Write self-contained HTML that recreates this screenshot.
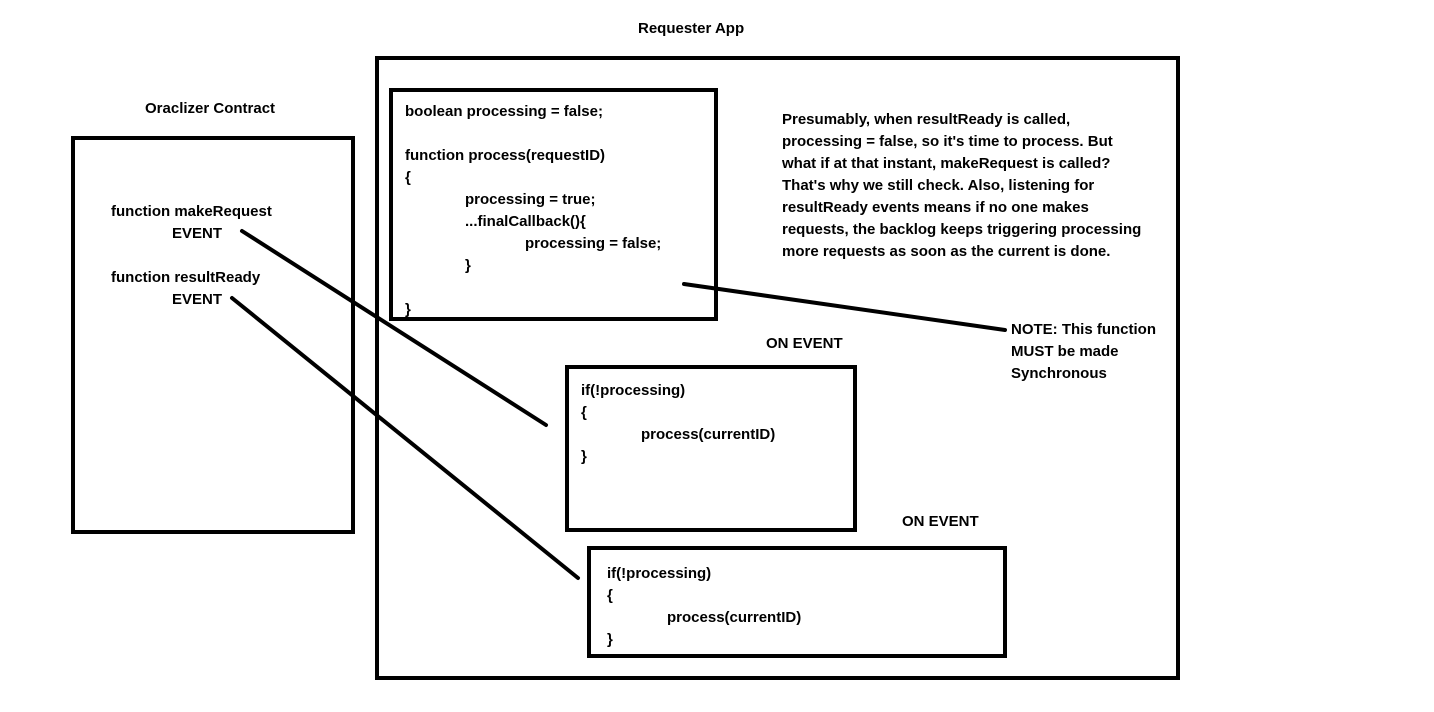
<!DOCTYPE html>
<html><head><meta charset="utf-8"><style>
body{margin:0;width:1434px;height:712px;background:#fff;position:relative;overflow:hidden;font-family:"Liberation Sans",sans-serif;font-weight:bold;font-size:15px;color:#000}
.b{position:absolute;border:4px solid #000;box-sizing:border-box}
.t{position:absolute;white-space:pre;line-height:22px;margin-top:2px}
</style></head><body>
<div class="b" style="left:375px;top:56px;width:805px;height:624px"></div>
<div class="b" style="left:389px;top:88px;width:329px;height:233px"></div>
<div class="b" style="left:71px;top:136px;width:284px;height:398px"></div>
<div class="b" style="left:565px;top:365px;width:292px;height:167px"></div>
<div class="b" style="left:587px;top:546px;width:420px;height:112px"></div>
<svg style="position:absolute;left:0;top:0" width="1434" height="712">
<g stroke="#000" stroke-width="4" stroke-linecap="round">
<line x1="242" y1="231" x2="546" y2="425"/>
<line x1="232" y1="298" x2="578" y2="578"/>
<line x1="684" y1="284" x2="1005" y2="330"/>
</g></svg>
<div class="t" style="left:638px;top:16px">Requester App</div>
<div class="t" style="left:145px;top:96px">Oraclizer Contract</div>
<div class="t" style="left:111px;top:199px">function makeRequest</div>
<div class="t" style="left:172px;top:221px">EVENT</div>
<div class="t" style="left:111px;top:265px">function resultReady</div>
<div class="t" style="left:172px;top:287px">EVENT</div>
<div class="t" style="left:405px;top:99px">boolean processing = false;

function process(requestID)
{</div>
<div class="t" style="left:465px;top:187px">processing = true;
...finalCallback(){</div>
<div class="t" style="left:525px;top:231px">processing = false;</div>
<div class="t" style="left:465px;top:253px">}</div>
<div class="t" style="left:405px;top:297px">}</div>
<div class="t" style="left:782px;top:107px">Presumably, when resultReady is called,
processing = false, so it's time to process. But
what if at that instant, makeRequest is called?
That's why we still check. Also, listening for
resultReady events means if no one makes
requests, the backlog keeps triggering processing
more requests as soon as the current is done.</div>
<div class="t" style="left:1011px;top:317px">NOTE: This function
MUST be made
Synchronous</div>
<div class="t" style="left:766px;top:331px">ON EVENT</div>
<div class="t" style="left:581px;top:378px">if(!processing)
{</div>
<div class="t" style="left:641px;top:422px">process(currentID)</div>
<div class="t" style="left:581px;top:444px">}</div>
<div class="t" style="left:902px;top:509px">ON EVENT</div>
<div class="t" style="left:607px;top:561px">if(!processing)
{</div>
<div class="t" style="left:667px;top:605px">process(currentID)</div>
<div class="t" style="left:607px;top:627px">}</div>
</body></html>
